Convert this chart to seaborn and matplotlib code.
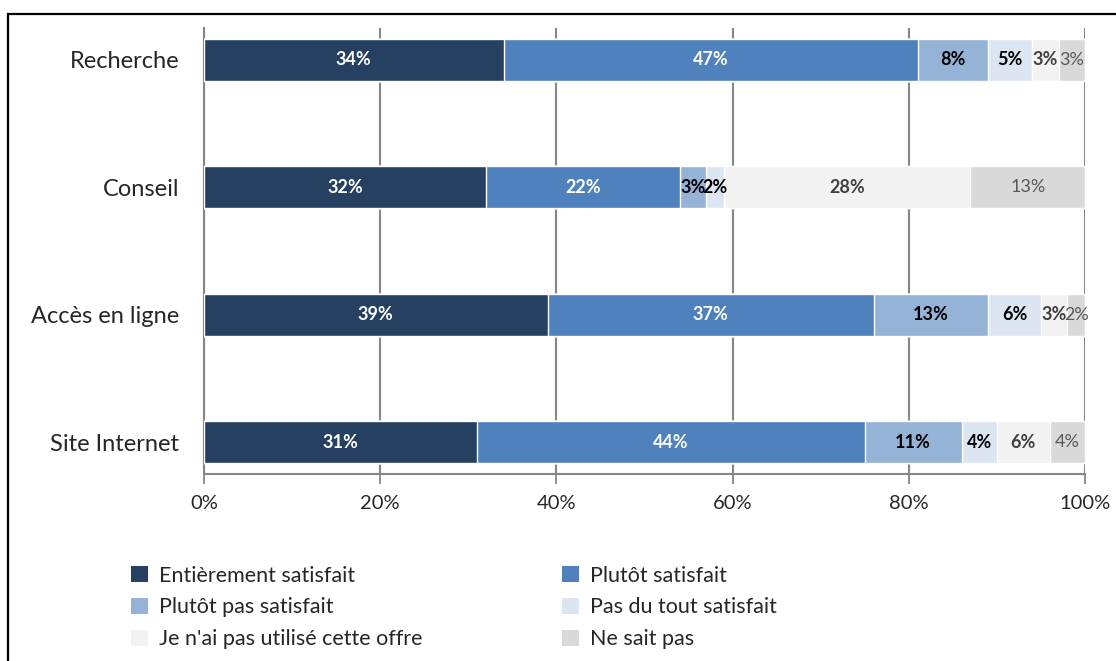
import matplotlib
matplotlib.use("Agg")
import matplotlib.pyplot as plt
from matplotlib.patches import Patch, Rectangle
from matplotlib.ticker import FuncFormatter
import numpy as np
import pandas as pd
import seaborn as sns

# Survey data: satisfaction per service, in percent
categories = ["Recherche", "Conseil", "Accès en ligne", "Site Internet"]
series_names = [
    "Entièrement satisfait",
    "Plutôt satisfait",
    "Plutôt pas satisfait",
    "Pas du tout satisfait",
    "Je n'ai pas utilisé cette offre",
    "Ne sait pas",
]
entierement = [34, 32, 39, 31]
plutot_sat = [47, 22, 37, 44]
plutot_pas = [8, 3, 13, 11]
pas_du_tout = [5, 2, 6, 4]
pas_utilise = [3, 28, 3, 6]
ne_sait_pas = [3, 13, 2, 4]
x_ticks = [0, 20, 40, 60, 80, 100]

values = [entierement, plutot_sat, plutot_pas, pas_du_tout, pas_utilise, ne_sait_pas]
colors = ["#264061", "#4F81BD", "#95B3D7", "#DCE6F2", "#F2F2F2", "#D9D9D9"]
label_colors = ["white", "white", "black", "black", "#404040", "#595959"]
label_weights = ["bold", "bold", "bold", "bold", "bold", "normal"]

sns.set_theme(style="white")
plt.rcParams["font.family"] = ["Lato", "DejaVu Sans"]

df = pd.DataFrame({name: v for name, v in zip(series_names, values)}, index=categories)
cum = df.cumsum(axis=1)
left = cum - df

fig = plt.figure(figsize=(11.16, 6.61), dpi=100)
ax = fig.add_axes([204 / 1116, 1 - 474 / 661, (1085 - 204) / 1116, (474 - 28) / 661])

# Stacked bars: draw cumulative totals from the outermost series inwards
for i in range(len(series_names) - 1, -1, -1):
    name = series_names[i]
    sns.barplot(
        x=cum[name].values, y=categories, orient="h", ax=ax,
        color=colors[i], width=0.33, edgecolor="white", linewidth=1.0,
        saturation=1, zorder=3,
    )

# Segment labels
for i, name in enumerate(series_names):
    for j, cat in enumerate(categories):
        v = df.loc[cat, name]
        xc = left.loc[cat, name] + v / 2
        ax.text(xc, j, f"{v}%", ha="center", va="center", fontsize=13,
                color=label_colors[i], fontweight=label_weights[i], zorder=5)

ax.set_xlim(0, 100)
ax.set_ylim(3.25, -0.25)
ax.set_xticks(x_ticks)
ax.xaxis.set_major_formatter(FuncFormatter(lambda x, _: f"{x:.0f}%"))
ax.set_xlabel("")
ax.set_ylabel("")
ax.tick_params(axis="x", which="both", direction="out", length=7, width=1.3,
               color="#868686", labelsize=14.5, pad=8, bottom=True)
ax.tick_params(axis="y", length=0, labelsize=17, pad=18)
ax.grid(axis="x", color="#868686", linewidth=1.5, zorder=0)
ax.set_axisbelow(True)
for side in ["top", "right"]:
    ax.spines[side].set_visible(False)
for side in ["left", "bottom"]:
    ax.spines[side].set_color("#868686")
    ax.spines[side].set_linewidth(1.5)
    ax.spines[side].set_zorder(1)

# Legend, filled row by row in two columns
order = [0, 2, 4, 1, 3, 5]
handles = [Patch(facecolor=colors[k], edgecolor="none", label=series_names[k]) for k in order]
fig.legend(handles=handles, ncol=2, loc="upper left",
           bbox_to_anchor=(122 / 1116, 1 - 557 / 661), frameon=False,
           fontsize=15.5, handlelength=0.8, handleheight=0.8, handletextpad=0.5,
           columnspacing=6.5, labelspacing=0.55, borderaxespad=0)

# Outer frame
fig.patches.append(Rectangle((8 / 1116, -0.1), 1.2, 1 - 14 / 661 + 0.1,
                             transform=fig.transFigure, fill=False,
                             edgecolor="black", linewidth=1.6, zorder=10))

fig.savefig("out.png", dpi=100)
